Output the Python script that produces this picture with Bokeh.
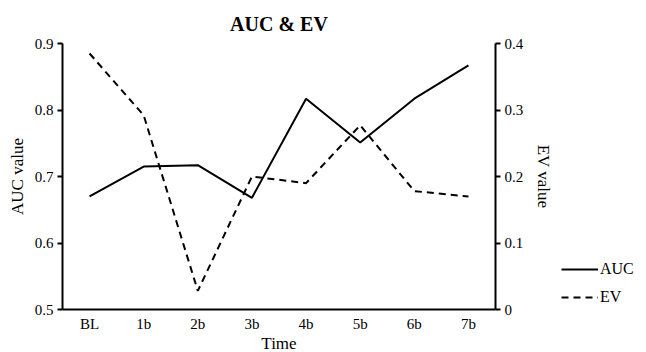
from bokeh.plotting import figure
from bokeh.layouts import row
from bokeh.models import LinearAxis, Range1d, FactorRange, Legend, LegendItem, FixedTicker
from bokeh.embed import file_html
from bokeh.resources import INLINE

times = ["BL", "1b", "2b", "3b", "4b", "5b", "6b", "7b"]
auc = [0.670, 0.715, 0.717, 0.668, 0.817, 0.751, 0.817, 0.867]
ev = [0.385, 0.292, 0.028, 0.200, 0.190, 0.277, 0.178, 0.170]
auc_ticks = [0.5, 0.6, 0.7, 0.8, 0.9]
ev_ticks = [0, 0.1, 0.2, 0.3, 0.4]

FONT = "Liberation Serif"

p = figure(frame_width=433, frame_height=266, x_range=FactorRange(*times, range_padding=0),
           y_range=Range1d(0.5, 0.9), output_backend="svg", toolbar_location=None,
           min_border_left=62, min_border_right=60, min_border_top=43, min_border_bottom=43)
p.extra_y_ranges = {"ev": Range1d(0, 0.4)}
p.outline_line_color = None
p.xgrid.grid_line_color = None
p.ygrid.grid_line_color = None

p.title.text = "AUC & EV"
p.title.align = "center"
p.title.text_font = FONT
p.title.text_font_size = "20px"
p.title.text_font_style = "bold"
p.title.text_color = "black"
p.title.standoff = 18

r_auc = p.line(times, auc, line_color="black", line_width=2)
r_ev = p.line(times, ev, line_color="black", line_width=2, line_dash="7 5", y_range_name="ev")

right = LinearAxis(y_range_name="ev", axis_label="EV value")
p.add_layout(right, "right")

for ax in [p.yaxis[0], right]:
    ax.axis_line_width = 2
    ax.axis_line_color = "black"
    ax.major_tick_line_width = 2
    ax.major_tick_out = 5
    ax.major_tick_in = 0
    ax.minor_tick_line_color = None
    ax.major_label_text_font = FONT
    ax.major_label_text_font_size = "15px"
    ax.major_label_text_color = "black"
    ax.major_label_standoff = 4
    ax.axis_label_text_font = FONT
    ax.axis_label_text_font_size = "17px"
    ax.axis_label_text_font_style = "normal"
    ax.axis_label_text_color = "black"

p.yaxis[0].axis_label = "AUC value"
p.yaxis[0].ticker = FixedTicker(ticks=auc_ticks)
p.yaxis[0].major_label_overrides = {0.5: "0.5", 0.6: "0.6", 0.7: "0.7", 0.8: "0.8", 0.9: "0.9"}
right.ticker = FixedTicker(ticks=ev_ticks)
right.major_label_overrides = {0: "0", 0.1: "0.1", 0.2: "0.2", 0.3: "0.3", 0.4: "0.4"}
right.axis_label_standoff = 8

xa = p.xaxis[0]
xa.axis_label = "Time"
xa.axis_line_width = 2
xa.axis_line_color = "black"
xa.major_tick_line_color = None
xa.minor_tick_line_color = None
xa.major_label_text_font = FONT
xa.major_label_text_font_size = "15px"
xa.major_label_text_color = "black"
xa.major_label_standoff = 0
xa.axis_label_text_font = FONT
xa.axis_label_text_font_size = "17px"
xa.axis_label_text_font_style = "normal"
xa.axis_label_text_color = "black"
xa.axis_label_standoff = -1

# legend panel as a separate figure next to the chart (series lie outside its range)
leg = figure(width=646 - (62 + 433 + 60), height=352,
             x_range=FactorRange(*times), y_range=Range1d(2, 3),
             x_axis_location=None, y_axis_location=None,
             output_backend="svg", toolbar_location=None, min_border=0)
leg.grid.grid_line_color = None
leg.outline_line_color = None
l_auc = leg.line(times, auc, line_color="black", line_width=2)
l_ev = leg.line(times, ev, line_color="black", line_width=2, line_dash="7 5")

legend = Legend(items=[LegendItem(label="AUC", renderers=[l_auc]),
                       LegendItem(label="EV", renderers=[l_ev])],
                location=(5, 0), padding=0, margin=0, spacing=10,
                glyph_width=37, glyph_height=16, label_height=16, label_standoff=2,
                border_line_color=None, background_fill_alpha=0,
                label_text_font=FONT, label_text_font_size="16px", label_text_color="black")
leg.add_layout(legend, "center")

layout = row(p, leg)
open("out.html", "w").write(file_html(layout, INLINE))
